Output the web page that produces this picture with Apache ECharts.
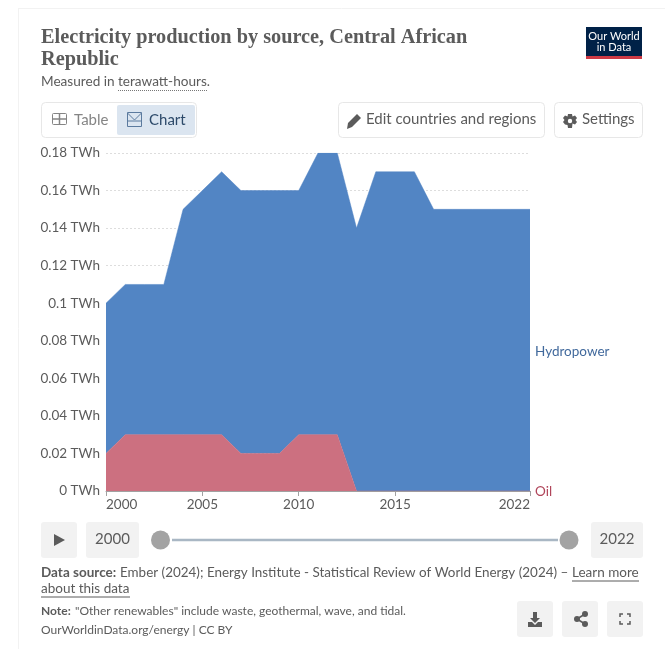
<!DOCTYPE html>
<html><head><meta charset="utf-8">
<style>html,body{margin:0;padding:0;background:#fff}#c{width:665px;height:649px}</style>
<script src="https://cdn.jsdelivr.net/npm/echarts@6/dist/echarts.min.js"></script>
</head><body><div id="c"></div>
<script>
const years=[2000,2001,2002,2003,2004,2005,2006,2007,2008,2009,2010,2011,2012,2013,2014,2015,2016,2017,2018,2019,2020,2021,2022];
const oil=[0.02,0.03,0.03,0.03,0.03,0.03,0.03,0.02,0.02,0.02,0.03,0.03,0.03,0,0,0,0,0,0,0,0,0,0];
const hydropower=[0.08,0.08,0.08,0.08,0.12,0.13,0.14,0.14,0.14,0.14,0.13,0.15,0.15,0.14,0.17,0.17,0.17,0.15,0.15,0.15,0.15,0.15,0.15];
const xTicks=[2000,2005,2010,2015,2022];
const F='Lato';
const t=(text,x,y,size,fill,o={})=>({type:'text',silent:true,style:{text,x,y,font:(o.weight||'400')+' '+size+'px '+(o.family||F),fill,textAlign:o.align||'left',textVerticalAlign:'middle'}});
const box=(x,y,w,h,fill,stroke,r)=>({type:'rect',silent:true,shape:{x,y,width:w,height:h,r:r==null?4:r},style:{fill,stroke:stroke||null,lineWidth:1}});
const poly=(points,fill)=>({type:'polygon',silent:true,shape:{points},style:{fill}});
const pl=(points,stroke,lw)=>({type:'polyline',silent:true,shape:{points},style:{stroke,fill:null,lineWidth:lw||1}});
const dot=(cx,cy,r,fill)=>({type:'circle',silent:true,shape:{cx,cy,r},style:{fill}});
const line=(x1,y1,x2,y2,stroke,lw)=>({type:'line',silent:true,shape:{x1,y1,x2,y2},style:{stroke,lineWidth:lw||1}});
const TC='#5b5b5b', BTN='#f2f2f2', BR='#e7e7e7', IC='#5b5b5b';
const graphics=[
 line(18.5,8,18.5,649,'#f2f2f2'),line(18,8.5,665,8.5,'#f2f2f2'),
 t('Electricity production by source, Central African',41,38,20.3,TC,{weight:'700',family:'"Liberation Serif"'}),
 t('Republic',41,60,20.3,TC,{weight:'700',family:'"Liberation Serif"'}),
 t('Measured in',41,82,13.6,TC),
 t('terawatt-hours.',118,82,13.6,TC),
 {type:'line',silent:true,shape:{x1:118,y1:90.5,x2:207,y2:90.5},style:{stroke:'#777',lineWidth:1,lineDash:[1,1]}},
 box(586,27,56,32,'#002147',null,0),box(586,56,56,3,'#ce3a45',null,0),
 t('Our World',614,36.5,11,'#fff',{align:'center'}),t('in Data',614,47.5,11,'#fff',{align:'center'}),
 box(41.5,102.5,155,35,'#fff',BR),
 box(117,105,78,30,'#dbe5f0',null,2),
 box(52.5,113.5,14,11,'none','#858585',1),line(52,119,67,119,'#858585',1.5),line(59.5,113,59.5,125,'#858585',1.5),
 t('Table',74,120,15,'#858585'),
 box(127.5,112.5,14,14,'none','#5b7a9e',0),pl([[127.5,113],[134.5,120],[141.5,113]],'#5b7a9e'),line(127,121,142,121,'#5b7a9e'),
 t('Chart',149,120,15,'#2d4a6a'),
 box(338.5,102.5,206,35,'#fff',BR),
 poly([[347,129],[348,123],[357,114],[361,118],[352,127]],IC),
 t('Edit countries and regions',366,119,15,TC),
 box(554.5,102.5,88,35,'#fff',BR),
 poly([[568,114],[572,114],[572.5,116.5],[575,115.5],[577,118],[575.5,120],[577,122],[575,124.5],[572.5,123.5],[572,128],[568,128],[567.5,125],[565,124.5],[563,122],[564.5,120],[563,118],[565,115.5],[567.5,116.5]],IC),
 dot(570,121,2.2,'#fff'),
 t('Settings',582,119,15,TC),
 t('Hydropower',535,352,13.5,'#41699c'),
 t('Oil',535,492,13.5,'#b0455a'),
 box(41,522,36,36,BTN,null,3),
 poly([[54,534],[65,540],[54,546]],IC),
 box(86,522,53,36,BTN,null,3),t('2000',112.5,539,15,TC,{align:'center'}),
 line(172,540,558,540,'#a9b7c4',2.5),
 dot(160.5,540,9.5,'#a3a3a3'),
 dot(569,540,9.5,'#a3a3a3'),
 box(591,522,52,36,BTN,null,3),t('2022',617,539,15,TC,{align:'center'}),
 t('Data source:',41,573,13.5,TC,{weight:'700'}),
 t('Ember (2024); Energy Institute - Statistical Review of World Energy (2024) –',120,573,13.45,TC),
 t('Learn more',572,573,13.5,TC),line(572,581,639,581,TC),
 t('about this data',41,589,13.5,TC),line(41,597,130,597,TC),
 t('Note:',41,611,12,TC,{weight:'700'}),
 t('"Other renewables" include waste, geothermal, wave, and tidal.',75,611,12,TC),
 t('OurWorldinData.org/energy | CC BY',41,630,12,TC),
 box(517,601,36,36,BTN,null,3),
 poly([[533,612],[537,612],[537,618],[540,618],[535,623],[530,618],[533,618]],IC),
 poly([[528,622],[532,622],[535,625],[538,622],[542,622],[542,627],[528,627]],IC),
 box(562,601,36,36,BTN,null,3),
 line(577,619,585,614,IC,1.5),line(577,619,585,624,IC,1.5),
 dot(577,619,3,IC),dot(585,614,3,IC),dot(585,624,3,IC),
 box(607,601,36,36,BTN,null,3),
 pl([[620,617],[620,614],[623,614]],IC,1.5),pl([[627,614],[630,614],[630,617]],IC,1.5),
 pl([[620,621],[620,624],[623,624]],IC,1.5),pl([[627,624],[630,624],[630,621]],IC,1.5)
];
const fmt=v=>v+' TWh';
const showYear=(i,v)=>xTicks.includes(Number(v));
const chart=echarts.init(document.getElementById('c'),null,{renderer:'canvas'});
chart.setOption({
 animation:false,
 textStyle:{fontFamily:F},
 grid:{left:106,right:135,top:153,bottom:158,containLabel:false},
 xAxis:{type:'category',data:years.map(String),boundaryGap:false,
  splitLine:{show:false},
  axisLine:{show:true,onZero:false,lineStyle:{color:'#a1a1a1'}},
  axisTick:{show:true,length:5,alignWithLabel:true,lineStyle:{color:'#a1a1a1'},interval:showYear},
  axisLabel:{interval:showYear,fontFamily:F,fontSize:13.5,color:TC,margin:7,alignMinLabel:'left',alignMaxLabel:'right',showMinLabel:true,showMaxLabel:true,hideOverlap:false}},
 yAxis:{type:'value',min:0,max:0.18,interval:0.02,
  axisLine:{show:false},axisTick:{show:false},
  splitLine:{show:true,lineStyle:{color:'#dddddd',type:[2,2],width:1}},
  axisLabel:{formatter:fmt,fontFamily:F,fontSize:13.5,color:TC,margin:6,padding:[2,0,0,0]}},
 series:[
  {name:'Oil',type:'line',stack:'e',symbol:'none',z:3,data:oil,lineStyle:{width:0.5,color:'#c96b7c'},areaStyle:{color:'#cc7080',opacity:1},itemStyle:{color:'#cc7080'}},
  {name:'Hydropower',type:'line',stack:'e',symbol:'none',z:2,data:hydropower,lineStyle:{width:0.5,color:'#5285c4'},areaStyle:{color:'#5285c4',opacity:1},itemStyle:{color:'#5285c4'}}
 ],
 graphic:{elements:graphics}
});
</script></body></html>
